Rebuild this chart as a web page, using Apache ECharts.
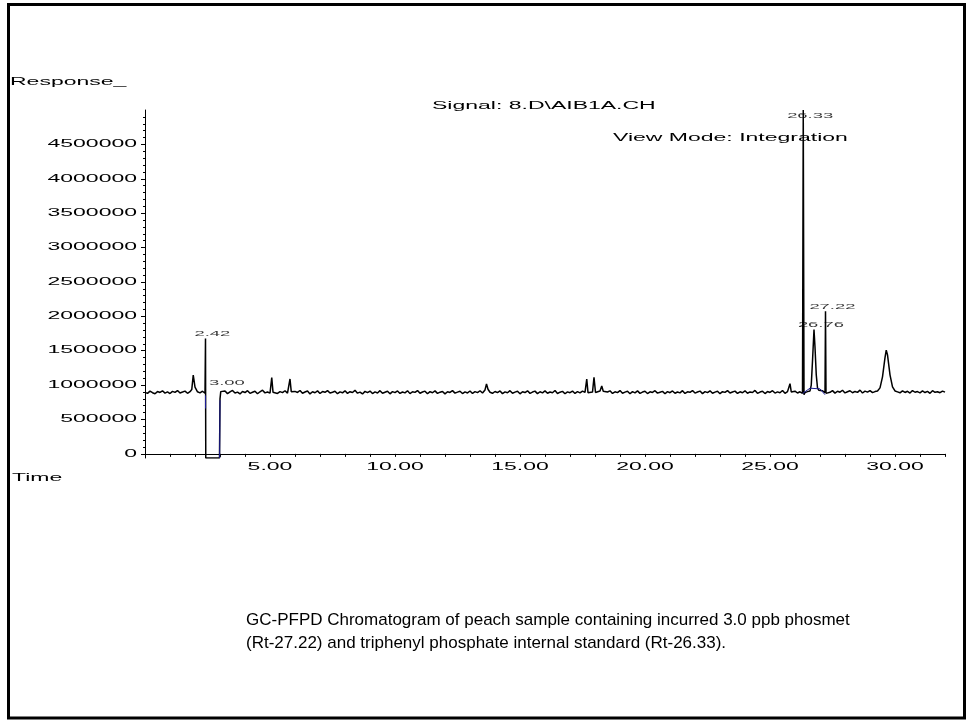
<!DOCTYPE html>
<html>
<head>
<meta charset="utf-8">
<script src="https://cdn.jsdelivr.net/npm/echarts@6/dist/echarts.min.js"></script>
<style>
  html, body { margin: 0; padding: 0; background: #fff; }
  #chart { width: 967px; height: 721px; }
</style>
</head>
<body>
<div id="chart"></div>
<script>
// [retention time (min), response]
const traceStart = [
  [0.0, 895000], [0.1, 880000], [0.2, 912000], [0.3, 889000], [0.4, 874000], [0.5, 906000], [0.6, 893000], [0.7, 917000], [0.8, 884000], [0.9, 901000],
  [1.0, 877000], [1.1, 909000], [1.2, 894000], [1.3, 921000], [1.4, 886000], [1.5, 899000], [1.6, 913000], [1.7, 881000], [1.8, 904000], [1.87, 935000],
  [1.93, 1147000], [2.0, 970000], [2.1, 903000], [2.2, 887000], [2.3, 911000], [2.4, 882000]
];
const solventDip = [
  [2.42, 1678000], [2.425, 840000], [2.43, -60000], [2.98, -60000], [3.0, 800000], [3.03, 905000]
];
const traceMid = [
  [3.1, 888000], [3.2, 914000], [3.3, 876000], [3.4, 902000], [3.5, 923000], [3.6, 885000], [3.7, 898000], [3.8, 871000], [3.9, 907000],
  [4.0, 892000], [4.1, 919000], [4.2, 880000], [4.3, 896000], [4.4, 911000], [4.5, 874000], [4.6, 903000], [4.7, 926000], [4.8, 887000], [4.9, 899000],
  [5.0, 884000], [5.07, 1108000], [5.12, 897000], [5.2, 912000], [5.3, 879000], [5.4, 905000], [5.5, 890000], [5.6, 918000], [5.7, 883000], [5.76, 910000], [5.8, 1089000], [5.85, 905000], [5.9, 876000],
  [6.0, 908000], [6.1, 893000], [6.2, 922000], [6.3, 881000], [6.4, 899000], [6.5, 914000], [6.6, 872000], [6.7, 903000], [6.8, 889000], [6.9, 916000],
  [7.0, 878000], [7.1, 906000], [7.2, 895000], [7.3, 920000], [7.4, 884000], [7.5, 897000], [7.6, 911000], [7.7, 875000], [7.8, 902000], [7.9, 888000],
  [8.0, 917000], [8.1, 880000], [8.2, 904000], [8.3, 893000], [8.4, 924000], [8.5, 883000], [8.6, 898000], [8.7, 871000], [8.8, 909000], [8.9, 890000],
  [9.0, 913000], [9.1, 877000], [9.2, 901000], [9.3, 886000], [9.4, 919000], [9.5, 882000], [9.6, 896000], [9.7, 910000], [9.8, 873000], [9.9, 905000],
  [10.0, 891000], [10.1, 915000], [10.2, 879000], [10.3, 900000], [10.4, 887000], [10.5, 918000], [10.6, 876000], [10.7, 903000], [10.8, 894000], [10.9, 921000],
  [11.0, 881000], [11.1, 899000], [11.2, 912000], [11.3, 874000], [11.4, 906000], [11.5, 889000], [11.6, 916000], [11.7, 880000], [11.8, 897000], [11.9, 908000],
  [12.0, 872000], [12.1, 903000], [12.2, 893000], [12.3, 920000], [12.4, 883000], [12.5, 898000], [12.6, 911000], [12.7, 877000], [12.8, 902000], [12.9, 886000],
  [13.0, 914000], [13.1, 879000], [13.2, 905000], [13.3, 891000], [13.4, 918000], [13.5, 884000], [13.6, 930000], [13.66, 1017000], [13.72, 940000], [13.8, 896000], [13.9, 881000],
  [14.0, 907000], [14.1, 890000], [14.2, 915000], [14.3, 876000], [14.4, 901000], [14.5, 888000], [14.6, 919000], [14.7, 882000], [14.8, 898000], [14.9, 910000],
  [15.0, 873000], [15.1, 904000], [15.2, 892000], [15.3, 917000], [15.4, 880000], [15.5, 899000], [15.6, 912000], [15.7, 876000], [15.8, 903000], [15.9, 887000],
  [16.0, 916000], [16.1, 881000], [16.2, 900000], [16.3, 889000], [16.4, 921000], [16.5, 878000], [16.6, 897000], [16.7, 909000], [16.8, 874000], [16.9, 902000],
  [17.0, 890000], [17.1, 914000], [17.2, 879000], [17.3, 904000], [17.4, 886000], [17.5, 912000], [17.6, 895000], [17.67, 1089000], [17.72, 890000], [17.8, 905000], [17.9, 898000], [17.96, 1114000], [18.02, 893000],
  [18.1, 877000], [18.2, 915000], [18.27, 988000], [18.33, 910000], [18.4, 884000], [18.5, 900000], [18.6, 917000], [18.7, 878000], [18.8, 903000], [18.9, 891000],
  [19.0, 920000], [19.1, 882000], [19.2, 898000], [19.3, 910000], [19.4, 875000], [19.5, 906000], [19.6, 888000], [19.7, 916000], [19.8, 880000], [19.9, 899000],
  [20.0, 911000], [20.1, 877000], [20.2, 902000], [20.3, 893000], [20.4, 918000], [20.5, 883000], [20.6, 897000], [20.7, 909000], [20.8, 874000], [20.9, 905000],
  [21.0, 889000], [21.1, 915000], [21.2, 881000], [21.3, 900000], [21.4, 887000], [21.5, 919000], [21.6, 878000], [21.7, 903000], [21.8, 895000], [21.9, 921000],
  [22.0, 884000], [22.1, 899000], [22.2, 913000], [22.3, 876000], [22.4, 906000], [22.5, 890000], [22.6, 917000], [22.7, 881000], [22.8, 898000], [22.9, 910000],
  [23.0, 875000], [23.1, 904000], [23.2, 894000], [23.3, 920000], [23.4, 885000], [23.5, 900000], [23.6, 912000], [23.7, 879000], [23.8, 903000], [23.9, 889000],
  [24.0, 917000], [24.1, 882000], [24.2, 901000], [24.3, 892000], [24.4, 923000], [24.5, 880000], [24.6, 899000], [24.7, 911000], [24.8, 877000], [24.9, 906000],
  [25.0, 893000], [25.1, 918000], [25.2, 884000], [25.3, 902000], [25.4, 889000], [25.5, 921000], [25.6, 880000], [25.7, 905000], [25.8, 1020000], [25.85, 900000], [25.9, 897000],
  [26.0, 912000], [26.1, 885000], [26.2, 903000]
];
const tracePeaks = [
  [26.3, 880000], [26.33, 5000000], [26.36, 860000], [26.4, 890000], [26.5, 905000], [26.6, 915000], [26.65, 1000000], [26.7, 1350000], [26.76, 1808000],
  [26.8, 1550000], [26.85, 1150000], [26.9, 960000], [26.95, 925000], [27.0, 905000], [27.1, 918000], [27.2, 890000], [27.22, 2073000], [27.24, 880000],
  [27.3, 908000], [27.4, 895000]
];
const traceEnd = [
  [27.5, 920000], [27.6, 883000], [27.7, 911000], [27.8, 897000], [27.9, 925000], [28.0, 886000], [28.1, 903000], [28.2, 918000], [28.3, 889000], [28.4, 908000],
  [28.5, 894000], [28.6, 927000], [28.7, 885000], [28.8, 912000], [28.9, 898000], [29.0, 920000], [29.1, 890000], [29.2, 906000], [29.3, 915000], [29.4, 960000],
  [29.5, 1120000], [29.6, 1400000], [29.65, 1509000], [29.7, 1440000], [29.8, 1150000], [29.9, 975000], [30.0, 915000], [30.1, 902000], [30.2, 888000], [30.3, 917000],
  [30.4, 893000], [30.5, 910000], [30.6, 884000], [30.7, 921000], [30.8, 896000], [30.9, 906000], [31.0, 887000], [31.1, 915000], [31.2, 892000], [31.3, 909000],
  [31.4, 881000], [31.5, 918000], [31.6, 895000], [31.7, 904000], [31.8, 889000], [31.9, 913000], [32.0, 898000]
];

// integration baseline marks (blue)
const integrationMarks = [
  [[2.42, 850000], [2.42, 660000]],
  [[2.985, -60000], [3.0, 780000]],
  [[26.31, 880000], [26.6, 955000], [27.0, 945000], [27.2, 860000]]
];

// labelled peaks
const peakTimes = [2.42, 3.00, 26.33, 26.76, 27.22];
const peakLabelHeights = [1678000, 960000, 4840000, 1808000, 2073000];

const yLabelValues = [0, 500000, 1000000, 1500000, 2000000, 2500000, 3000000, 3500000, 4000000, 4500000];
const xLabelValues = [5, 10, 15, 20, 25, 30];
const captionLines = [
  "GC-PFPD Chromatogram of peach sample containing incurred 3.0 ppb phosmet",
  "(Rt-27.22) and triphenyl phosphate internal standard (Rt-26.33)."
];

const yMinorTicks = [];
for (let v = 0; v < 5000000; v += 100000) yMinorTicks.push(v);

const FONT = "Liberation Sans";
const STRETCH = 2.3;
const Y_MIN = -60000;
const Y_MAX = 5000000;

const chart = echarts.init(document.getElementById("chart"));

const trace = traceStart.concat(solventDip, traceMid, tracePeaks, traceEnd);

chart.setOption({
  animation: false,
  backgroundColor: "#fff",
  grid: { left: 145, right: 22, top: 110, bottom: 263 },
  xAxis: {
    type: "value",
    min: 0,
    max: 32,
    interval: 1,
    axisLine: { lineStyle: { color: "#000", width: 1 } },
    axisTick: { length: 3, lineStyle: { color: "#000" } },
    axisLabel: {
      customValues: xLabelValues,
      formatter: (v) => v.toFixed(2),
      color: "#000",
      fontFamily: FONT,
      fontSize: 10,
      margin: 4,
    },
    splitLine: { show: false },
  },
  yAxis: [
    {
      type: "value",
      position: "left",
      min: Y_MIN,
      max: Y_MAX,
      axisLine: { show: true, lineStyle: { color: "#000", width: 1 } },
      axisTick: { show: true, customValues: yLabelValues, length: 4, lineStyle: { color: "#000" } },
      axisLabel: {
        customValues: yLabelValues,
        formatter: (v) => String(v),
        color: "#000",
        fontFamily: FONT,
        fontSize: 10,
        margin: 8,
      },
      splitLine: { show: false },
    },
    {
      type: "value",
      position: "left",
      offset: 0,
      min: Y_MIN,
      max: Y_MAX,
      axisLine: { show: false },
      axisTick: { show: true, customValues: yMinorTicks, length: 2, lineStyle: { color: "#000" } },
      axisLabel: { show: false },
      splitLine: { show: false },
    },
  ],
  series: [
    {
      name: "signal",
      type: "line",
      data: trace,
      showSymbol: false,
      symbol: "none",
      lineStyle: { color: "#000", width: 1.5 },
      silent: true,
    },
    ...integrationMarks.map((seg) => ({
      type: "line",
      data: seg,
      symbol: "none",
      lineStyle: { color: "#1c1c94", width: 1 },
      silent: true,
    })),
    {
      name: "peaks",
      type: "scatter",
      data: peakTimes.map((t, i) => [t, peakLabelHeights[i]]),
      symbolSize: 0,
      label: {
        show: true,
        position: "top",
        distance: 1,
        offset: [3, 0],
        formatter: (p) => p.value[0].toFixed(2),
        color: "#000",
        fontFamily: FONT,
        fontSize: 8,
      },
      silent: true,
    },
  ],
  graphic: [
    {
      type: "rect",
      shape: { x: 8.5, y: 4.5, width: 956, height: 713.5 },
      style: { fill: "none", stroke: "#000", lineWidth: 3 },
      silent: true,
    },
    { type: "text", x: 10, y: 82, style: { text: "Response_", font: "10px " + FONT, fill: "#000", textVerticalAlign: "middle" } },
    { type: "text", x: 12, y: 478, style: { text: "Time", font: "10px " + FONT, fill: "#000", textVerticalAlign: "middle" } },
    { type: "text", x: 432, y: 106, style: { text: "Signal: 8.D\\AIB1A.CH", font: "10px " + FONT, fill: "#000", textVerticalAlign: "middle" } },
    { type: "text", x: 613, y: 138, style: { text: "View Mode: Integration", font: "10px " + FONT, fill: "#000", textVerticalAlign: "middle" } },
    { type: "text", x: 246, y: 620, style: { text: captionLines[0], font: "17px " + FONT, fill: "#000", textVerticalAlign: "middle" } },
    { type: "text", x: 246, y: 643, style: { text: captionLines[1], font: "17px " + FONT, fill: "#000", textVerticalAlign: "middle" } },
  ],
});

// the instrument printout uses a horizontally stretched font
function stretchText() {
  const zr = chart.getZr();
  const apply = (t) => {
    if (!t || !t.style || captionLines.includes(t.style.text)) return;
    t.scaleX = STRETCH;
    t.markRedraw();
  };
  const visit = (el) => {
    if (el.type === "text") apply(el);
    if (el.getTextContent) apply(el.getTextContent());
  };
  zr.storage.getRoots().forEach((root) => {
    visit(root);
    if (root.traverse) root.traverse(visit);
  });
  zr.refresh();
}
stretchText();
</script>
</body>
</html>
